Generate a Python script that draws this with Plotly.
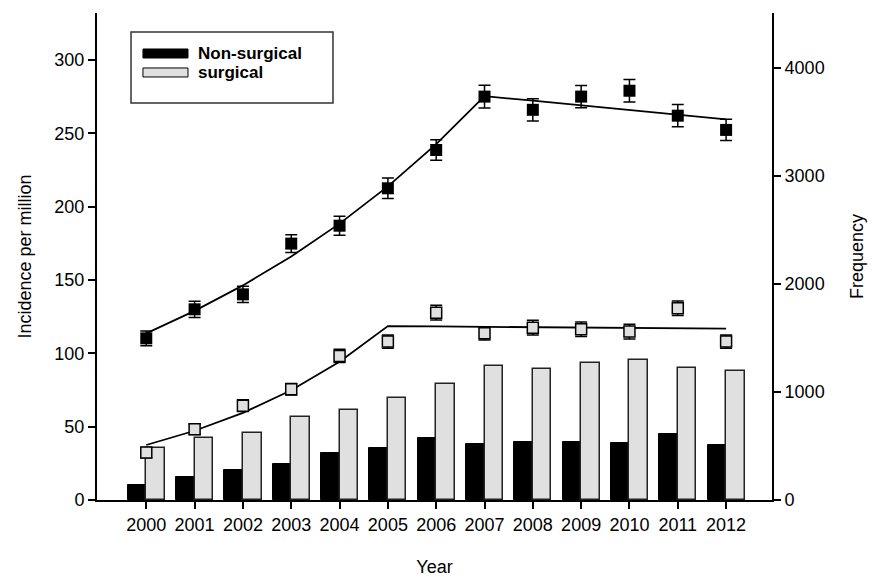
import plotly.graph_objects as go

years = [2000, 2001, 2002, 2003, 2004, 2005, 2006, 2007, 2008, 2009, 2010, 2011, 2012]

# Frequency (right axis) - bars
freq_nonsurg = [139, 210, 281, 336, 435, 478, 577, 515, 537, 534, 531, 608, 509]
freq_surg = [479, 571, 617, 772, 830, 941, 1075, 1241, 1213, 1265, 1293, 1225, 1194]

# Incidence per million (left axis) - observed points with error
inc_nonsurg = [110.2, 130.0, 140.2, 174.8, 187.0, 212.5, 238.6, 275.0, 266.0, 275.0, 279.0, 262.0, 252.3]
err_nonsurg = [5.0, 5.5, 5.5, 6.0, 6.5, 7.0, 7.0, 7.8, 7.6, 7.6, 7.6, 7.6, 7.2]
inc_surg = [32.3, 48.2, 64.3, 75.5, 98.2, 108.0, 127.7, 113.6, 117.5, 116.4, 114.8, 130.7, 108.0]
err_surg = [3.5, 3.5, 4.0, 4.0, 4.5, 4.5, 5.0, 4.5, 5.0, 5.0, 5.0, 5.0, 4.5]

# Fitted (joinpoint) values
fit_nonsurg = [113.6, 128.9, 146.3, 166.0, 188.4, 213.8, 242.6, 275.3, 272.2, 268.9, 265.7, 262.6, 259.5]
fit_surg = [37.5, 47.2, 59.4, 74.8, 94.2, 118.6, 118.3, 118.1, 117.8, 117.6, 117.3, 117.0, 116.8]

FONT = "Liberation Sans, Arial, sans-serif"
FS = 18
BW = 0.385

fig = go.Figure()

fig.add_trace(go.Bar(
    x=years, y=freq_nonsurg, width=BW, offset=-BW, name="Non-surgical",
    marker=dict(color="#000000", line=dict(color="#000000", width=1)),
    yaxis="y", showlegend=False))
fig.add_trace(go.Bar(
    x=years, y=freq_surg, width=BW, offset=0, name="surgical",
    marker=dict(color="#e0e0e0", line=dict(color="#222222", width=1.5)),
    yaxis="y", showlegend=False))

fig.add_trace(go.Scatter(
    x=years, y=fit_nonsurg, mode="lines", line=dict(color="#000000", width=1.8),
    yaxis="y2", showlegend=False))
fig.add_trace(go.Scatter(
    x=years, y=fit_surg, mode="lines", line=dict(color="#000000", width=1.8),
    yaxis="y2", showlegend=False))

fig.add_trace(go.Scatter(
    x=years, y=inc_nonsurg, mode="markers",
    marker=dict(symbol="square", size=12, color="#000000"),
    error_y=dict(type="data", array=err_nonsurg, color="#000000", thickness=1.5, width=6),
    yaxis="y2", showlegend=False))
fig.add_trace(go.Scatter(
    x=years, y=inc_surg, mode="markers",
    marker=dict(symbol="square", size=11, color="#e0e0e0", line=dict(color="#000000", width=1.5)),
    error_y=dict(type="data", array=err_surg, color="#000000", thickness=1.5, width=6),
    yaxis="y2", showlegend=False))

axis_common = dict(showline=True, linecolor="#000000", linewidth=2, ticks="outside",
                   ticklen=7, tickwidth=1.5, tickcolor="#000000", showgrid=False, zeroline=False,
                   automargin=False,
                   tickfont=dict(family=FONT, size=FS, color="#000000"))

fig.update_layout(
    width=874, height=577,
    margin=dict(l=97, r=102, t=13, b=77),
    paper_bgcolor="white", plot_bgcolor="white",
    font=dict(family=FONT, size=FS, color="#000000"),
    bargap=0,
    xaxis=dict(range=[1998.98, 2012.95], tickmode="array", tickvals=years,
               ticktext=[str(y) for y in years],
               title=dict(text="Year", font=dict(family=FONT, size=FS), standoff=27),
               **axis_common),
    yaxis=dict(range=[0, 4509], side="right", tickvals=[0, 1000, 2000, 3000, 4000],
               title=dict(text="Frequency", font=dict(family=FONT, size=FS), standoff=27),
               **axis_common),
    yaxis2=dict(range=[0, 332], side="left", overlaying="y", anchor="x",
                tickvals=[0, 50, 100, 150, 200, 250, 300],
                title=dict(text="Incidence per million", font=dict(family=FONT, size=FS), standoff=18),
                **axis_common),
)

# Legend box drawn manually to match the reference's wide swatches
fig.add_shape(type="rect", xref="paper", yref="paper", x0=0.0504, x1=0.3496, y0=0.8152, y1=0.961,
              line=dict(color="#333333", width=1.5), fillcolor="white", layer="above")
fig.add_shape(type="rect", xref="paper", yref="paper", x0=0.0681, x1=0.1348, y0=0.9076, y1=0.9261,
              line=dict(color="#000000", width=1), fillcolor="#000000", layer="above")
fig.add_shape(type="rect", xref="paper", yref="paper", x0=0.0681, x1=0.1348, y0=0.8686, y1=0.8871,
              line=dict(color="#000000", width=1), fillcolor="#e0e0e0", layer="above")
fig.add_annotation(xref="paper", yref="paper", x=0.146, y=0.9168, xanchor="left", yanchor="middle",
                   text="<b>Non-surgical</b>", showarrow=False,
                   font=dict(family=FONT, size=17, color="#000000"))
fig.add_annotation(xref="paper", yref="paper", x=0.146, y=0.8778, xanchor="left", yanchor="middle",
                   text="<b>surgical</b>", showarrow=False,
                   font=dict(family=FONT, size=17, color="#000000"))

fig.write_html("out.html", config={"displayModeBar": False},
               post_script="document.body.style.margin='0px';")
